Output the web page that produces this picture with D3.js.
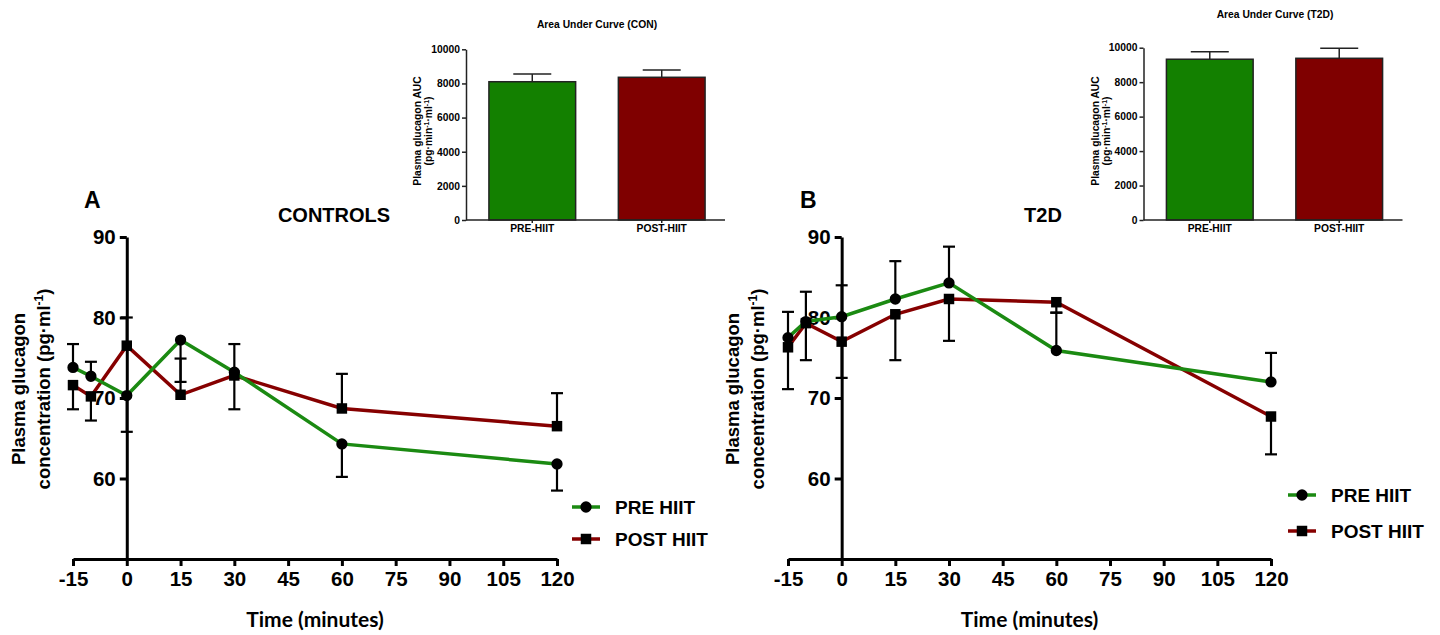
<!DOCTYPE html>
<html>
<head>
<meta charset="utf-8">
<script src="https://cdn.jsdelivr.net/npm/d3@7/dist/d3.min.js"></script>
<style>
body { margin: 0; background: #fff; }
svg text { font-family: "Liberation Sans", Arial, sans-serif; font-weight: bold; fill: #000; }
</style>
</head>
<body>
<div id="chart"></div>
<script>
var svgWidth = 1440;
var svgHeight = 635;

// time course data (pg/ml), signed error: + drawn above, - drawn below
var timePoints = [-15, -10, 0, 15, 30, 60, 120];
var xTicks = [-15, 0, 15, 30, 45, 60, 75, 90, 105, 120];
var yTicks = [60, 70, 80, 90];

var conPre = [73.8, 72.7, 70.3, 77.2, 73.2, 64.3, 61.8];
var conPreErr = [2.9, 1.8, -4.5, -5.2, 3.5, -4.1, -3.3];
var conPost = [71.6, 70.2, 76.5, 70.4, 72.8, 68.7, 66.5];
var conPostErr = [-3.0, -3.0, 3.5, 4.5, -4.2, 4.3, 4.1];

var t2dPre = [77.5, 79.5, 80.1, 82.3, 84.3, 75.9, 72.0];
var t2dPreErr = [3.2, 3.7, 3.9, 4.7, 4.5, 4.7, 3.6];
var t2dPost = [76.3, 79.3, 77.0, 80.4, 82.3, 81.9, 67.7];
var t2dPostErr = [-5.2, -4.6, -4.5, -5.7, -5.2, -1.3, -4.7];

// area under curve insets
var aucCategories = ["PRE-HIIT", "POST-HIIT"];
var aucTicks = [0, 2000, 4000, 6000, 8000, 10000];
var aucCon = [8100, 8360];
var aucConErr = [450, 430];
var aucT2d = [9330, 9385];
var aucT2dErr = [440, 580];

var seriesNames = ["PRE HIIT", "POST HIIT"];
var greenLine = "#1b8a12";
var redLine = "#860000";
var greenBar = "#138000";
var redBar = "#7f0000";

// plain labels: "-15" with a hyphen, "10000" without comma
var plainFormat = function(d) { return String(d); };

var svg = d3.select("#chart").append("svg")
    .attr("width", svgWidth)
    .attr("height", svgHeight);

function drawPanel(p) {
    var xScale = d3.scaleLinear().domain([-15, 120]).range([p.x0, p.x1]);
    var yScale = d3.scaleLinear().domain([50, 90]).range([559, 237]);
    var g = svg.append("g");

    var xAxis = g.append("g")
        .attr("transform", "translate(0,559)")
        .call(d3.axisBottom(xScale).tickValues(xTicks).tickFormat(plainFormat)
            .tickSize(7).tickSizeOuter(0).tickPadding(5));
    var yAxis = g.append("g")
        .attr("transform", "translate(" + xScale(0) + ",0)")
        .call(d3.axisLeft(yScale).tickValues(yTicks).tickFormat(plainFormat)
            .tickSize(7).tickSizeOuter(0).tickPadding(4));
    [xAxis, yAxis].forEach(function(a) {
        a.select(".domain").attr("stroke-width", 3);
        a.selectAll(".tick line").attr("stroke-width", 3);
        a.selectAll("text").style("font-size", "20.5px");
    });

    var series = [
        {vals: p.post, err: p.postErr, color: redLine, sym: d3.symbolSquare, size: 110},
        {vals: p.pre, err: p.preErr, color: greenLine, sym: d3.symbolCircle, size: 100}
    ];

    // error bars
    series.forEach(function(s) {
        timePoints.forEach(function(t, i) {
            var cx = xScale(t);
            var yEnd = yScale(s.vals[i] + s.err[i]);
            g.append("line")
                .attr("x1", cx).attr("x2", cx)
                .attr("y1", yScale(s.vals[i])).attr("y2", yEnd)
                .attr("stroke", "#000").attr("stroke-width", 2.2);
            g.append("line")
                .attr("x1", cx - 6).attr("x2", cx + 6)
                .attr("y1", yEnd).attr("y2", yEnd)
                .attr("stroke", "#000").attr("stroke-width", 2.2);
        });
    });

    var line = d3.line()
        .x(function(d, i) { return xScale(timePoints[i]); })
        .y(function(d) { return yScale(d); });

    series.forEach(function(s) {
        g.append("path")
            .datum(s.vals)
            .attr("d", line)
            .attr("fill", "none")
            .attr("stroke", s.color)
            .attr("stroke-width", 3.5);
    });

    series.forEach(function(s) {
        g.selectAll(null)
            .data(s.vals)
            .enter()
            .append("path")
            .attr("d", d3.symbol().type(s.sym).size(s.size))
            .attr("transform", function(d, i) {
                return "translate(" + xScale(timePoints[i]) + "," + yScale(d) + ")";
            })
            .attr("fill", "#000");
    });

    // legend
    var legendItems = [
        {name: seriesNames[0], color: greenLine, sym: d3.symbolCircle, size: 100},
        {name: seriesNames[1], color: redLine, sym: d3.symbolSquare, size: 110}
    ];
    legendItems.forEach(function(item, i) {
        var ly = p.legendY + i * p.legendGap;
        g.append("line")
            .attr("x1", p.legendX).attr("x2", p.legendX + 28)
            .attr("y1", ly).attr("y2", ly)
            .attr("stroke", item.color).attr("stroke-width", 3.5);
        g.append("path")
            .attr("d", d3.symbol().type(item.sym).size(item.size))
            .attr("transform", "translate(" + (p.legendX + 14) + "," + ly + ")")
            .attr("fill", "#000");
        g.append("text")
            .attr("x", p.legendX + 43)
            .attr("y", ly)
            .attr("dy", "0.36em")
            .style("font-size", "19px")
            .text(item.name);
    });

    // titles
    g.append("text")
        .attr("x", p.letterX).attr("y", 208)
        .style("font-size", "23px")
        .text(p.letter);
    g.append("text")
        .attr("x", p.titleX).attr("y", 222)
        .attr("text-anchor", "middle")
        .style("font-size", "20px")
        .text(p.title);
    g.append("text")
        .attr("x", (p.x0 + p.x1) / 2).attr("y", 627)
        .attr("text-anchor", "middle")
        .style("font-family", "Lato, sans-serif")
        .style("font-size", "21px")
        .text("Time (minutes)");

    g.append("text")
        .attr("transform", "translate(" + p.yTitleX + ",389)rotate(-90)")
        .attr("text-anchor", "middle")
        .style("font-size", "18.5px")
        .text("Plasma glucagon");
    var t2 = g.append("text")
        .attr("transform", "translate(" + (p.yTitleX + 25) + ",389)rotate(-90)")
        .attr("text-anchor", "middle")
        .style("font-size", "18.5px");
    t2.append("tspan").text("concentration (pg\u00b7ml");
    t2.append("tspan").attr("baseline-shift", "super").style("font-size", "12px").text("-1");
    t2.append("tspan").text(")");
}

function drawInset(c) {
    var yScale = d3.scaleLinear().domain([0, 10000]).range([220, c.yTop]);
    var xScale = d3.scaleBand().domain(aucCategories)
        .range([c.ax + 3.5, c.ax + 258.5])
        .paddingInner(0.33).paddingOuter(0.15);
    var g = svg.append("g");
    var colors = [greenBar, redBar];

    // error bars (upward only)
    c.vals.forEach(function(v, i) {
        var cx = xScale(aucCategories[i]) + xScale.bandwidth() / 2;
        var yEnd = yScale(v + c.err[i]);
        g.append("line")
            .attr("x1", cx).attr("x2", cx)
            .attr("y1", yScale(v)).attr("y2", yEnd)
            .attr("stroke", "#222").attr("stroke-width", 1.5);
        g.append("line")
            .attr("x1", cx - 19).attr("x2", cx + 19)
            .attr("y1", yEnd).attr("y2", yEnd)
            .attr("stroke", "#222").attr("stroke-width", 1.5);
    });

    g.selectAll("rect")
        .data(c.vals)
        .enter()
        .append("rect")
        .attr("x", function(d, i) { return xScale(aucCategories[i]); })
        .attr("y", function(d) { return yScale(d); })
        .attr("width", xScale.bandwidth())
        .attr("height", function(d) { return 220 - yScale(d); })
        .attr("fill", function(d, i) { return colors[i]; })
        .attr("stroke", "#222")
        .attr("stroke-width", 1.5);

    var yAxis = g.append("g")
        .attr("transform", "translate(" + c.ax + ",0)")
        .call(d3.axisLeft(yScale).tickValues(aucTicks).tickFormat(plainFormat)
            .tickSize(4).tickSizeOuter(0).tickPadding(2));
    var xAxis = g.append("g")
        .attr("transform", "translate(0,220)")
        .call(d3.axisBottom(xScale).tickSize(3).tickSizeOuter(0).tickPadding(2));
    xAxis.select(".domain").remove();
    g.append("line")
        .attr("x1", c.ax).attr("x2", c.ax + 259)
        .attr("y1", 220).attr("y2", 220)
        .attr("stroke", "#222").attr("stroke-width", 1.5);
    [xAxis, yAxis].forEach(function(a) {
        a.select(".domain").attr("stroke-width", 1.5).attr("stroke", "#222");
        a.selectAll(".tick line").attr("stroke-width", 1.5).attr("stroke", "#222");
        a.selectAll("text").style("font-size", "10.3px");
    });

    g.append("text")
        .attr("x", c.titleX).attr("y", c.titleY)
        .attr("text-anchor", "middle")
        .style("font-size", "10.3px")
        .text(c.title);

    g.append("text")
        .attr("transform", "translate(" + c.yTitleX + ",131)rotate(-90)")
        .attr("text-anchor", "middle")
        .style("font-size", "10.3px")
        .text("Plasma glucagon AUC");
    var t2 = g.append("text")
        .attr("transform", "translate(" + (c.yTitleX + 11.5) + ",131)rotate(-90)")
        .attr("text-anchor", "middle")
        .style("font-size", "10.3px");
    t2.append("tspan").text("(pg\u00b7min");
    t2.append("tspan").attr("baseline-shift", "super").style("font-size", "7px").text("-1");
    t2.append("tspan").text("\u00b7ml");
    t2.append("tspan").attr("baseline-shift", "super").style("font-size", "7px").text("-1");
    t2.append("tspan").text(")");
}

drawPanel({
    letter: "A", title: "CONTROLS",
    pre: conPre, preErr: conPreErr, post: conPost, postErr: conPostErr,
    x0: 73, x1: 557, letterX: 84, titleX: 334, yTitleX: 25,
    legendX: 572, legendY: 507, legendGap: 32
});
drawPanel({
    letter: "B", title: "T2D",
    pre: t2dPre, preErr: t2dPreErr, post: t2dPost, postErr: t2dPostErr,
    x0: 788, x1: 1271, letterX: 800, titleX: 1043, yTitleX: 739,
    legendX: 1288, legendY: 495, legendGap: 36
});

drawInset({
    title: "Area Under Curve (CON)", vals: aucCon, err: aucConErr,
    ax: 466, yTop: 49.3, titleX: 597, titleY: 28, yTitleX: 420.5
});
drawInset({
    title: "Area Under Curve (T2D)", vals: aucT2d, err: aucT2dErr,
    ax: 1143.5, yTop: 47.7, titleX: 1275, titleY: 18, yTitleX: 1098.5
});
</script>
</body>
</html>
